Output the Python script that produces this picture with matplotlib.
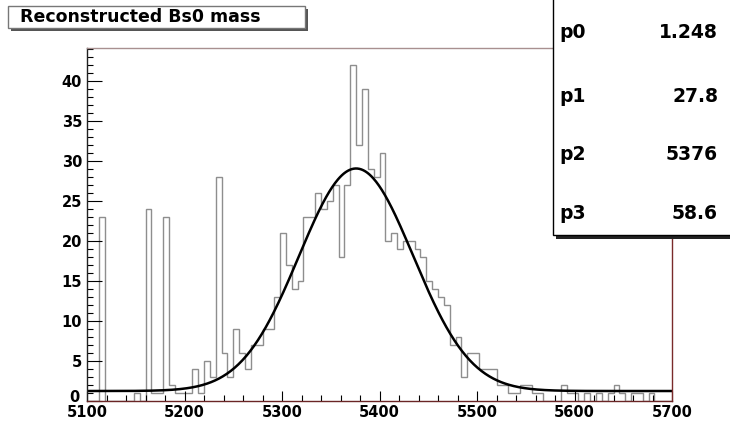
import matplotlib.pyplot as plt
import numpy as np
from matplotlib.patches import Rectangle
from matplotlib.ticker import MultipleLocator

plt.rcParams['font.family'] = ['DejaVu Sans']
plt.rcParams['font.weight'] = 'bold'

# histogram: 100 bins from 5100 to 5700
x_lo, x_hi, n_bins = 5100, 5700, 100
counts = [0, 0, 23, 0, 0, 0, 0, 0, 1, 0,
          24, 1, 1, 23, 2, 1, 1, 1, 4, 1,
          5, 3, 28, 6, 3, 9, 6, 4, 7, 7,
          9, 9, 13, 21, 17, 14, 15, 23, 23, 26,
          24, 25, 27, 18, 27, 42, 32, 39, 29, 28,
          31, 20, 21, 19, 20, 20, 19, 18, 15, 14,
          13, 12, 7, 8, 3, 6, 6, 4, 4, 4,
          2, 2, 1, 1, 2, 2, 1, 1, 0, 0,
          0, 2, 1, 1, 0, 1, 0, 1, 0, 1,
          2, 1, 0, 1, 1, 0, 1, 0, 0, 0]

# fit parameters shown in the stats box
par_names = ['p0', 'p1', 'p2', 'p3']
par_text = ['1.248', '27.8', '5376', '58.6']
p0, p1, p2, p3 = [float(v) for v in par_text]

title = 'Reconstructed Bs0 mass'

W, H = 730, 422
fig = plt.figure(figsize=(W / 100, H / 100), dpi=100)

# axes frame placed in pixel terms of the reference
ax = fig.add_axes([87 / W, 1 - 401 / H, (672 - 87) / W, (401 - 48) / H])

edges = np.linspace(x_lo, x_hi, n_bins + 1)
ax.stairs(counts, edges, color='#8e8e8e', linewidth=1.0)

# gaussian + constant fit curve
xf = np.linspace(x_lo, x_hi, 600)
yf = p0 + p1 * np.exp(-0.5 * ((xf - p2) / p3) ** 2)
ax.plot(xf, yf, color='black', linewidth=1.8)

ax.set_xlim(x_lo, x_hi)
ax.set_ylim(0, 1.05 * max(counts))

ax.xaxis.set_major_locator(MultipleLocator(100))
ax.xaxis.set_minor_locator(MultipleLocator(20))
ax.yaxis.set_major_locator(MultipleLocator(5))
ax.yaxis.set_minor_locator(MultipleLocator(1))
ax.yaxis.set_major_formatter(lambda v, pos: '' if v == 0 else f'{v:g}')

ax.tick_params(axis='x', which='major', direction='in', length=7.5, width=0.8, pad=3,
               labelsize=10.5)
ax.tick_params(axis='x', which='minor', direction='in', length=4, width=0.8)
ax.tick_params(axis='y', which='major', direction='in', length=11, width=0.8, pad=3.5,
               labelsize=10.5)
ax.tick_params(axis='y', which='minor', direction='in', length=4.5, width=0.8)

ax.spines['left'].set_color('#222222')
ax.spines['bottom'].set_color('#6a2525')
ax.spines['right'].set_color('#7a2a2a')
ax.spines['top'].set_color('#a89090')
for s in ax.spines.values():
    s.set_linewidth(1.0)

# y=0 label sits tight in the corner above the x labels, as in ROOT
ax.text(-0.012, 0.011, '0', transform=ax.transAxes, ha='right', va='center',
        fontsize=10.5)


def px_rect(x0, y0, x1, y1, **kw):
    # rectangle from reference pixel coords (top-left origin)
    return Rectangle((x0 / W, 1 - y1 / H), (x1 - x0) / W, (y1 - y0) / H,
                     transform=fig.transFigure, **kw)


# title box with shadow
fig.add_artist(px_rect(11, 9, 308, 31, facecolor='#555555', edgecolor='none', zorder=5))
fig.add_artist(px_rect(8, 6, 305, 28, facecolor='white', edgecolor='#777777',
                       linewidth=1, zorder=6))
fig.text(20 / W, 1 - 17.5 / H, title, ha='left', va='center', fontsize=12.5,
         zorder=7)

# stats box with shadow
fig.add_artist(px_rect(556, -5, 735, 239, facecolor='#222222', edgecolor='none', zorder=5))
fig.add_artist(px_rect(553, -5, 735, 235, facecolor='white', edgecolor='black',
                       linewidth=1, zorder=6))
row_y = [33, 96, 154, 213]
for name, val, yy in zip(par_names, par_text, row_y):
    fig.text(559 / W, 1 - yy / H, name, ha='left', va='center', fontsize=13.5,
             zorder=7)
    fig.text(718 / W, 1 - yy / H, val, ha='right', va='center', fontsize=13.5,
             zorder=7)

fig.savefig('out.png', dpi=100, facecolor='white')
